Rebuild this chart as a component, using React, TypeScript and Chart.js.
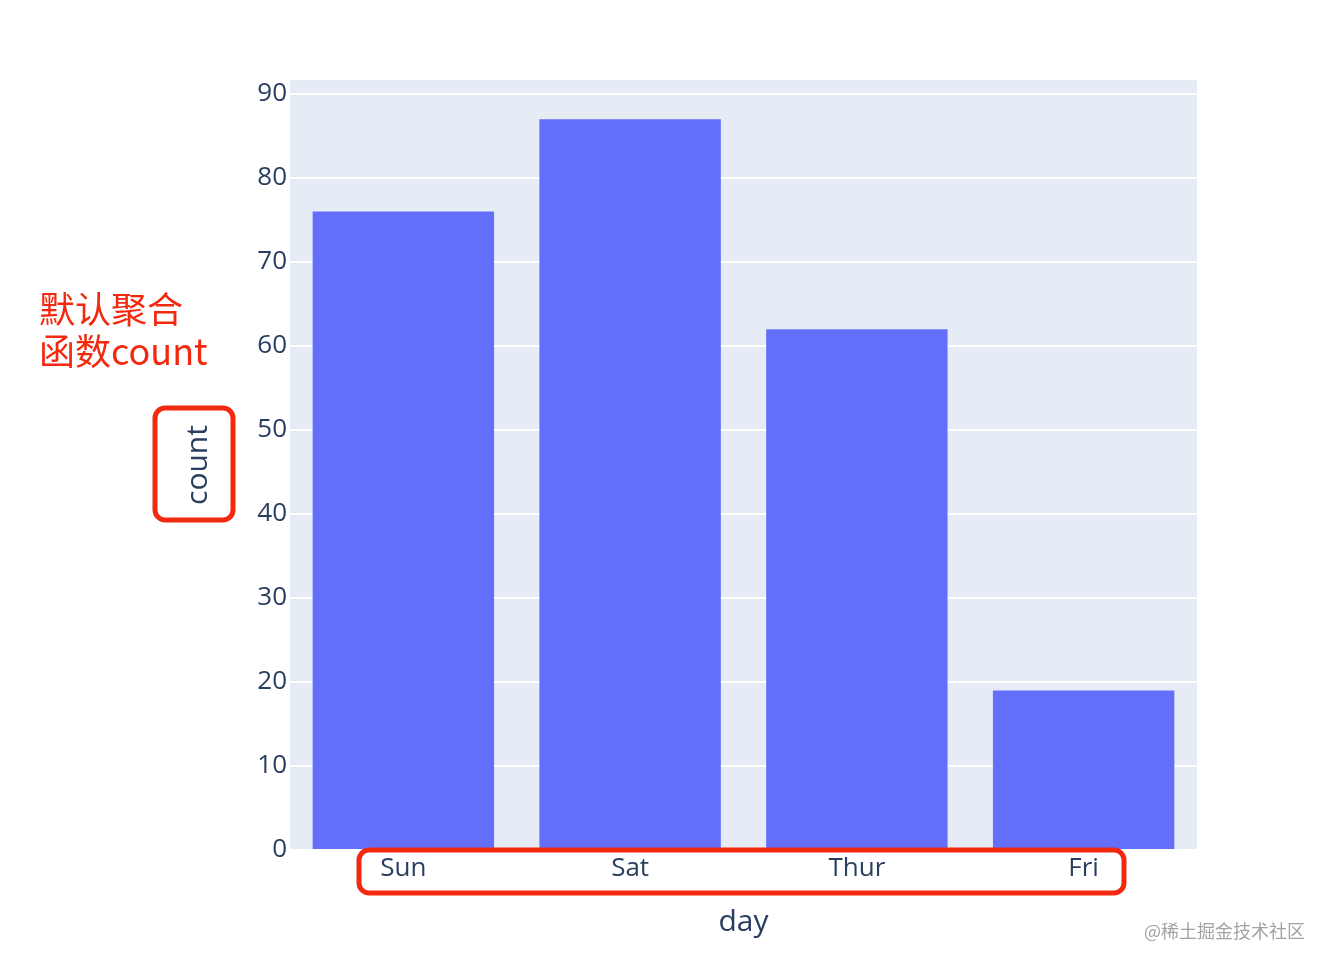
import React, { useEffect, useRef } from "react";
import { Chart, registerables } from "chart.js";

Chart.register(...registerables);

const categories = ["Sun", "Sat", "Thur", "Fri"];
const counts = [76, 87, 62, 19];
const yMax = 91.67;
const yStep = 10;
const xTitle = "day";
const yTitle = "count";
const noteLines = ["默认聚合", "函数count"];
const watermark = "@稀土掘金技术社区";

const FONT = '"Open Sans", "DejaVu Sans", Arial, sans-serif';
const RED = "#f3290f";

function roundRect(ctx: CanvasRenderingContext2D, x: number, y: number, w: number, h: number, r: number) {
  ctx.beginPath();
  ctx.moveTo(x + r, y);
  ctx.lineTo(x + w - r, y);
  ctx.arcTo(x + w, y, x + w, y + r, r);
  ctx.lineTo(x + w, y + h - r);
  ctx.arcTo(x + w, y + h, x + w - r, y + h, r);
  ctx.lineTo(x + r, y + h);
  ctx.arcTo(x, y + h, x, y + h - r, r);
  ctx.lineTo(x, y + r);
  ctx.arcTo(x, y, x + r, y, r);
  ctx.closePath();
}

const bgPlugin = {
  id: "plotBg",
  beforeDraw(chart: any) {
    const { ctx, chartArea } = chart;
    ctx.save();
    ctx.fillStyle = "#ffffff";
    ctx.fillRect(0, 0, chart.width, chart.height);
    ctx.fillStyle = "#e5ecf6";
    ctx.fillRect(chartArea.left, chartArea.top, chartArea.right - chartArea.left, chartArea.bottom - chartArea.top);
    ctx.restore();
  },
};

const annotPlugin = {
  id: "annot",
  afterDraw(chart: any) {
    const { ctx } = chart;
    ctx.save();
    // red note text
    ctx.fillStyle = RED;
    ctx.font = `36px "Noto Sans CJK SC", ${FONT}`;
    ctx.textAlign = "left";
    ctx.textBaseline = "middle";
    ctx.fillText(noteLines[0], 39, 309);
    ctx.fillText(noteLines[1], 39, 351);
    // red boxes
    ctx.strokeStyle = RED;
    ctx.lineWidth = 5;
    roundRect(ctx, 155, 408, 78, 112, 10);
    ctx.stroke();
    roundRect(ctx, 359, 850, 765, 43, 10);
    ctx.stroke();
    // watermark
    ctx.fillStyle = "#a3a3a3";
    ctx.font = `18px "Noto Sans CJK SC", ${FONT}`;
    ctx.textAlign = "right";
    ctx.fillText(watermark, 1305, 931);
    ctx.restore();
  },
};

export default function App() {
  const ref = useRef<HTMLCanvasElement | null>(null);
  useEffect(() => {
    if (!ref.current) return;
    const chart = new Chart(ref.current, {
      type: "bar",
      data: {
        labels: categories,
        datasets: [
          {
            label: yTitle,
            data: counts,
            backgroundColor: "#636efa",
            borderWidth: 0,
            barPercentage: 0.8,
            categoryPercentage: 1,
          },
        ],
      },
      options: {
        animation: false,
        responsive: false,
        maintainAspectRatio: false,
        layout: { padding: { top: 80, right: 133, left: 0, bottom: 0 } },
        plugins: {
          legend: { display: false },
          tooltip: { enabled: false },
        },
        scales: {
          x: {
            grid: { display: false, drawTicks: false },
            border: { display: false },
            ticks: {
              color: "#2a3f5f",
              font: { family: FONT, size: 26 },
              padding: 3,
              maxRotation: 0,
            },
            title: {
              display: true,
              text: xTitle,
              color: "#2a3f5f",
              font: { family: FONT, size: 30 },
              padding: { top: 0, bottom: 26 },
            },
            afterFit: (scale: any) => {
              scale.height = 116;
            },
          },
          y: {
            min: 0,
            max: yMax,
            grid: { color: "#ffffff", lineWidth: 2, drawTicks: false },
            border: { display: false },
            ticks: {
              stepSize: yStep,
              includeBounds: false,
              color: "#2a3f5f",
              font: { family: FONT, size: 26 },
              padding: 3,
            },
            title: {
              display: true,
              text: yTitle,
              color: "#2a3f5f",
              font: { family: FONT, size: 30 },
              padding: { top: 180, bottom: 0 },
            },
            afterFit: (scale: any) => {
              scale.width = 290;
            },
          },
        },
      },
      plugins: [bgPlugin, annotPlugin],
    });
    return () => chart.destroy();
  }, []);
  return (
    <div style={{ position: "absolute", left: 0, top: 0, width: 1330, height: 966, background: "#fff" }}>
      <canvas ref={ref} width={1330} height={966} style={{ width: 1330, height: 966, display: "block" }} />
    </div>
  );
}
